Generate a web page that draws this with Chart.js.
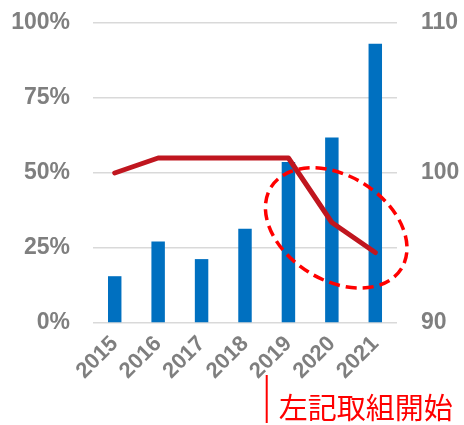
<!DOCTYPE html>
<html>
<head>
<meta charset="utf-8">
<script src="https://cdn.jsdelivr.net/npm/chart.js@4.4.1/dist/chart.umd.min.js"></script>
<style>
html,body{margin:0;padding:0;background:#fff;}
#wrap{width:464px;height:425px;position:relative;}
</style>
</head>
<body>
<div id="wrap"><canvas id="c" width="464" height="425"></canvas></div>
<script>
const years = ['2015', '2016', '2017', '2018', '2019', '2020', '2021'];
const shareValues = [15.6, 27.2, 21.3, 31.4, 53.7, 61.8, 93.1];
const indexValues = [100, 101, 101, 101, 101, 96.7, 94.7];
const leftTicks = [0, 25, 50, 75, 100];
const rightTicks = [90, 100, 110];
const noteText = '左記取組開始';

const tickFont = { family: '"Liberation Sans", Arial, sans-serif', size: 23, weight: 'bold' };
const tickColor = '#7f7f7f';

const annotate = {
  id: 'annotate',
  afterDraw(chart) {
    const ctx = chart.ctx;
    const x = chart.scales.x;
    const yL = chart.scales.yL;
    const step = x.getPixelForValue(1) - x.getPixelForValue(0);
    // dashed ellipse
    const cx = x.getPixelForValue(5) + 0.1 * step;
    const cy = yL.getPixelForValue(31.7);
    ctx.save();
    ctx.strokeStyle = '#ff0000';
    ctx.lineWidth = 3.5;
    ctx.setLineDash([11, 6]);
    ctx.beginPath();
    ctx.ellipse(cx, cy, 1.77 * step, 1.2 * step, 32 * Math.PI / 180, 0, Math.PI * 2);
    ctx.stroke();
    ctx.restore();
    // marker + note
    const mx = (x.getPixelForValue(3) + x.getPixelForValue(4)) / 2;
    const b = chart.chartArea.bottom;
    ctx.save();
    ctx.strokeStyle = '#ff0000';
    ctx.lineWidth = 2;
    ctx.beginPath();
    ctx.moveTo(mx, b + 52);
    ctx.lineTo(mx, b + 100);
    ctx.stroke();
    ctx.fillStyle = '#ff0000';
    ctx.font = '29px "Noto Sans CJK JP", sans-serif';
    ctx.textBaseline = 'middle';
    ctx.textAlign = 'left';
    ctx.fillText(noteText, mx + 12, b + 85);
    ctx.restore();
  }
};

function fitY(width) {
  return function (s) {
    s.width = width;
    s.paddingTop = 23;
    s.paddingBottom = 14;
  };
}

new Chart(document.getElementById('c'), {
  data: {
    labels: years,
    datasets: [
      {
        type: 'line',
        data: indexValues,
        yAxisID: 'yR',
        borderColor: '#c0161f',
        borderWidth: 5,
        borderCapStyle: 'round',
        borderJoinStyle: 'round',
        pointRadius: 0,
        tension: 0,
        order: 0
      },
      {
        type: 'bar',
        data: shareValues,
        yAxisID: 'yL',
        backgroundColor: '#0070c0',
        barPercentage: 0.31,
        categoryPercentage: 1,
        order: 1
      }
    ]
  },
  options: {
    responsive: false,
    animation: false,
    layout: { padding: 0 },
    plugins: { legend: { display: false }, tooltip: { enabled: false } },
    scales: {
      x: {
        grid: { display: false, drawTicks: false },
        border: { display: false },
        ticks: { font: { ...tickFont, size: 22 }, color: tickColor, minRotation: 45, maxRotation: 45, padding: 8 },
        afterFit(s) { s.height = 102; }
      },
      yL: {
        position: 'left',
        min: 0, max: 100,
        afterBuildTicks(s) { s.ticks = leftTicks.map(v => ({ value: v })); },
        grid: { color: '#d9d9d9', lineWidth: 1.5, drawTicks: false },
        border: { display: false },
        ticks: { font: tickFont, color: tickColor, padding: 23, callback: v => v + '%' },
        afterFit: fitY(93)
      },
      yR: {
        position: 'right',
        min: 90, max: 110,
        afterBuildTicks(s) { s.ticks = rightTicks.map(v => ({ value: v })); },
        grid: { display: false, drawTicks: false },
        border: { display: false },
        ticks: { font: tickFont, color: tickColor, padding: 24 },
        afterFit: fitY(67)
      }
    }
  },
  plugins: [annotate]
});
</script>
</body>
</html>
